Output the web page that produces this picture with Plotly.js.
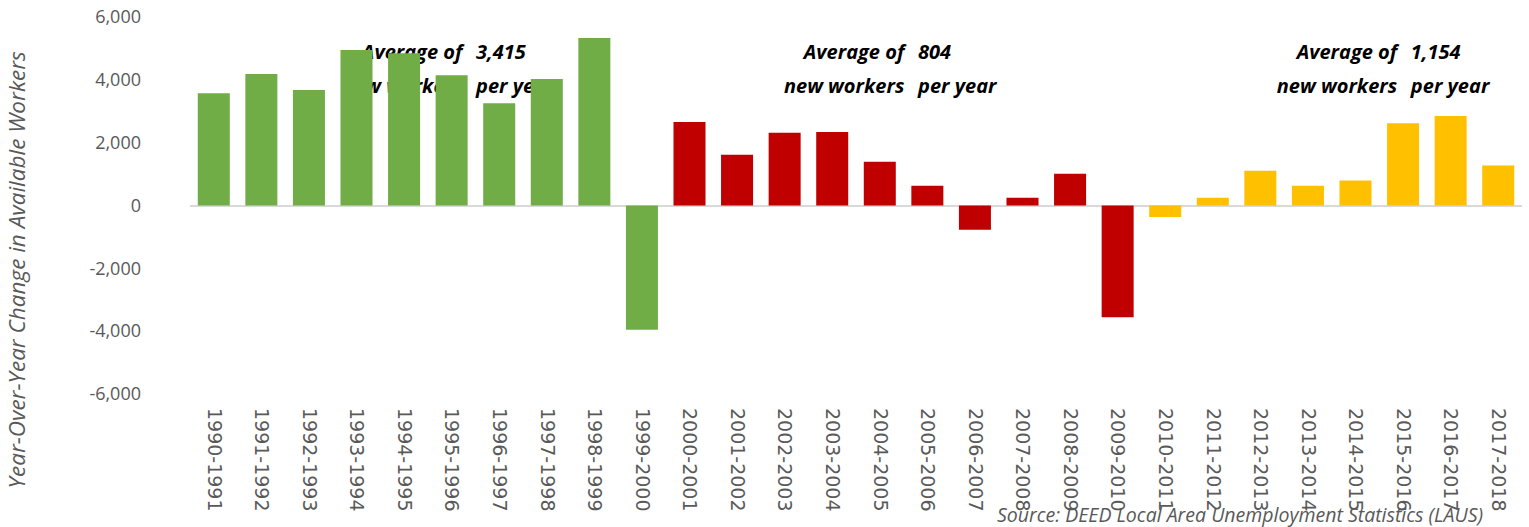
<!DOCTYPE html>
<html>
<head>
<meta charset="utf-8">
<script src="https://cdn.plot.ly/plotly-3.0.1.min.js"></script>
<style>
  html, body { margin: 0; padding: 0; background: #ffffff; }
  #chart { width: 1529px; height: 527px; }
</style>
</head>
<body>
<div id="chart"></div>
<script>
// Year-over-year change in available workers, grouped by decade
const periods1990s = ['1990-1991', '1991-1992', '1992-1993', '1993-1994', '1994-1995',
  '1995-1996', '1996-1997', '1997-1998', '1998-1999', '1999-2000'];
const change1990s = [3574, 4188, 3679, 4951, 4846, 4146, 3256, 4029, 5332, -3952];

const periods2000s = ['2000-2001', '2001-2002', '2002-2003', '2003-2004', '2004-2005',
  '2005-2006', '2006-2007', '2007-2008', '2008-2009', '2009-2010'];
const change2000s = [2661, 1612, 2312, 2343, 1389, 626, -773, 245, 1008, -3561];

const periods2010s = ['2010-2011', '2011-2012', '2012-2013', '2013-2014', '2014-2015',
  '2015-2016', '2016-2017', '2017-2018'];
const change2010s = [-369, 245, 1103, 626, 795, 2620, 2852, 1272];

// decade averages written on the chart
const averageValues = ['3,415', '804', '1,154'];

const yTickValues = [-6000, -4000, -2000, 0, 2000, 4000, 6000];
const yTickLabels = ['-6,000', '-4,000', '-2,000', '0', '2,000', '4,000', '6,000'];

const GREY = '#595959';

const traces = [
  { periods: periods1990s, values: change1990s, color: '#70ad47' },
  { periods: periods2000s, values: change2000s, color: '#c00000' },
  { periods: periods2010s, values: change2010s, color: '#ffc000' },
].map(d => ({
  type: 'bar',
  x: d.periods,
  y: d.values,
  marker: { color: d.color, line: { width: 0 } },
  hovertemplate: '%{x}: %{y:,}<extra></extra>',
}));

// Average notes sit behind the bars (shape labels on the 'below' layer)
const NOTE_SPLIT = [5.37, 14.66, 25.02];   // category index where the two columns meet
const NOTE_GAP = 0.08;
const NOTE_ROWS = [4860, 3780];             // y value of each text row
const noteFont = {
  family: '"Open Sans", sans-serif', size: 20, color: '#000000',
  weight: 'bold', style: 'italic',
};

function noteShape(x, y, text, side) {
  const left = side === 'left';
  return {
    type: 'rect', xref: 'x', yref: 'y', layer: 'below',
    x0: left ? x - 0.001 : x, x1: left ? x : x + 0.001,
    y0: y - 1, y1: y + 1,
    line: { width: 0 }, fillcolor: 'rgba(0,0,0,0)',
    label: {
      text: '<b><i>' + text + '</i></b>',
      textposition: left ? 'middle right' : 'middle left',
      xanchor: left ? 'right' : 'left',
      yanchor: 'middle',
      padding: 0,
      font: noteFont,
    },
  };
}

const shapes = [];
averageValues.forEach((avg, i) => {
  const s = NOTE_SPLIT[i];
  shapes.push(noteShape(s - NOTE_GAP, NOTE_ROWS[0], 'Average of', 'left'));
  shapes.push(noteShape(s - NOTE_GAP, NOTE_ROWS[1], 'new workers', 'left'));
  shapes.push(noteShape(s + NOTE_GAP, NOTE_ROWS[0], avg, 'right'));
  shapes.push(noteShape(s + NOTE_GAP, NOTE_ROWS[1], 'per year', 'right'));
});

const layout = {
  width: 1529,
  height: 527,
  paper_bgcolor: '#ffffff',
  plot_bgcolor: '#ffffff',
  margin: { t: 17, r: 7, b: 133, l: 190 },
  showlegend: false,
  barmode: 'relative',
  bargap: 0.327,
  font: { family: '"Open Sans", sans-serif', color: GREY },
  xaxis: {
    type: 'category',
    showgrid: false,
    showline: false,
    ticks: '',
    tickangle: 90,
    ticklabelstandoff: 13,
    tickfont: { family: '"DejaVu Sans", sans-serif', size: 19, color: GREY },
  },
  yaxis: {
    range: [-6000, 6000],
    showgrid: false,
    showline: false,
    zeroline: true,
    zerolinecolor: '#d9d9d9',
    zerolinewidth: 2,
    ticks: '',
    tickvals: yTickValues,
    ticktext: yTickLabels,
    ticklabelstandoff: 48,
    tickfont: { family: '"Open Sans", sans-serif', size: 18, color: GREY },
  },
  shapes,
  annotations: [
    {
      text: 'Year-Over-Year Change in Available Workers',
      xref: 'paper', yref: 'paper', x: -0.13, y: 0.33,
      xanchor: 'center', yanchor: 'middle', textangle: -90, showarrow: false,
      font: { family: '"Open Sans", sans-serif', size: 22.5, color: GREY, style: 'italic' },
    },
    {
      text: 'Source: DEED Local Area Unemployment Statistics (LAUS)',
      xref: 'paper', yref: 'paper', x: 0.972, y: -0.32,
      xanchor: 'right', yanchor: 'middle', showarrow: false,
      font: { family: '"Open Sans", sans-serif', size: 19.5, color: GREY, style: 'italic' },
    },
  ],
};

Plotly.newPlot('chart', traces, layout, { displayModeBar: false, responsive: false });
</script>
</body>
</html>
